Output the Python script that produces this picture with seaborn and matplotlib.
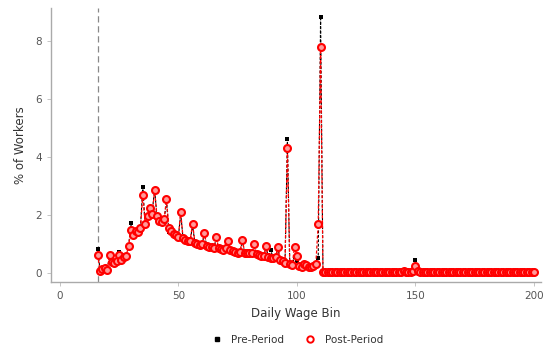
import numpy as np
import pandas as pd
import matplotlib
matplotlib.use("Agg")
import matplotlib.pyplot as plt
from matplotlib.lines import Line2D
import seaborn as sns

# Daily wage bins 16..200
bins = list(range(16, 201))

post_period = [
    # 16-19
    0.62, 0.08, 0.12, 0.18,
    # 20-29
    0.10, 0.62, 0.38, 0.35, 0.42, 0.62, 0.45, 0.55, 0.60, 0.92,
    # 30-39
    1.48, 1.30, 1.45, 1.42, 1.55, 2.68, 1.70, 1.95, 2.25, 2.05,
    # 40-49
    2.85, 1.95, 1.80, 1.75, 1.85, 2.55, 1.55, 1.45, 1.35, 1.30,
    # 50-59
    1.25, 2.10, 1.20, 1.15, 1.10, 1.12, 1.70, 1.05, 1.00, 0.98,
    # 60-69
    1.00, 1.38, 0.92, 0.90, 0.88, 0.85, 1.25, 0.85, 0.82, 0.80,
    # 70-79
    0.85, 1.12, 0.78, 0.75, 0.72, 0.70, 0.72, 1.15, 0.70, 0.68,
    # 80-89
    0.68, 0.70, 1.00, 0.65, 0.62, 0.60, 0.58, 0.92, 0.55, 0.52,
    # 90-99
    0.50, 0.55, 0.90, 0.45, 0.40, 0.35, 4.30, 0.30, 0.28, 0.88,
    # 100-109
    0.60, 0.25, 0.20, 0.30, 0.28, 0.22, 0.20, 0.25, 0.30, 1.70,
    # 110-119
    7.80, 0.05, 0.05, 0.04, 0.05, 0.05, 0.04, 0.05, 0.05, 0.04,
    # 120-129
    0.05, 0.05, 0.04, 0.05, 0.05, 0.05, 0.04, 0.05, 0.05, 0.04,
    # 130-139
    0.05, 0.05, 0.05, 0.04, 0.05, 0.05, 0.04, 0.05, 0.05, 0.05,
    # 140-149
    0.05, 0.04, 0.05, 0.05, 0.05, 0.08, 0.05, 0.05, 0.04, 0.06,
    # 150-159
    0.25, 0.06, 0.05, 0.04, 0.05, 0.05, 0.05, 0.04, 0.05, 0.05,
    # 160-169
    0.05, 0.04, 0.05, 0.05, 0.05, 0.05, 0.04, 0.05, 0.05, 0.04,
    # 170-179
    0.05, 0.05, 0.04, 0.05, 0.05, 0.05, 0.04, 0.05, 0.05, 0.05,
    # 180-189
    0.05, 0.04, 0.05, 0.05, 0.05, 0.04, 0.05, 0.05, 0.05, 0.04,
    # 190-199
    0.05, 0.05, 0.04, 0.05, 0.05, 0.05, 0.04, 0.05, 0.05, 0.05,
    # 200
    0.05,
]

pre_period = [
    # 16-19
    0.82, 0.07, 0.14, 0.16,
    # 20-29
    0.12, 0.60, 0.36, 0.38, 0.45, 0.73, 0.48, 0.52, 0.62, 0.90,
    # 30-39
    1.71, 1.32, 1.42, 1.45, 1.52, 2.98, 1.68, 1.92, 2.20, 2.10,
    # 40-49
    2.90, 1.90, 1.78, 1.72, 1.80, 2.50, 1.42, 1.40, 1.33, 1.28,
    # 50-59
    1.22, 2.05, 1.18, 1.12, 1.08, 1.10, 1.65, 1.02, 0.98, 0.96,
    # 60-69
    0.98, 1.35, 0.90, 0.88, 0.86, 0.83, 1.22, 0.83, 0.80, 0.78,
    # 70-79
    0.82, 1.10, 0.76, 0.73, 0.70, 0.68, 0.70, 1.12, 0.68, 0.66,
    # 80-89
    0.66, 0.68, 0.98, 0.63, 0.60, 0.58, 0.56, 0.90, 0.53, 0.80,
    # 90-99
    0.48, 0.52, 0.85, 0.43, 0.38, 0.33, 4.62, 0.28, 0.26, 0.55,
    # 100-109
    0.40, 0.24, 0.20, 0.28, 0.26, 0.20, 0.19, 0.23, 0.28, 0.50,
    # 110-119
    8.85, 0.05, 0.05, 0.05, 0.04, 0.05, 0.05, 0.04, 0.05, 0.05,
    # 120-129
    0.04, 0.05, 0.05, 0.05, 0.04, 0.05, 0.05, 0.05, 0.04, 0.05,
    # 130-139
    0.05, 0.04, 0.05, 0.05, 0.05, 0.04, 0.05, 0.05, 0.04, 0.05,
    # 140-149
    0.05, 0.05, 0.04, 0.05, 0.05, 0.10, 0.05, 0.04, 0.05, 0.06,
    # 150-159
    0.45, 0.06, 0.05, 0.05, 0.04, 0.05, 0.05, 0.05, 0.04, 0.05,
    # 160-169
    0.05, 0.05, 0.04, 0.05, 0.05, 0.04, 0.05, 0.05, 0.05, 0.05,
    # 170-179
    0.04, 0.05, 0.05, 0.05, 0.04, 0.05, 0.05, 0.05, 0.04, 0.05,
    # 180-189
    0.05, 0.05, 0.04, 0.05, 0.05, 0.05, 0.04, 0.05, 0.05, 0.05,
    # 190-199
    0.04, 0.05, 0.05, 0.05, 0.04, 0.05, 0.05, 0.05, 0.04, 0.05,
    # 200
    0.05,
]

assert len(bins) == len(post_period) == len(pre_period)

x_ticks = [0, 50, 100, 150, 200]
y_ticks = [0, 2, 4, 6, 8]
cutoff_bin = 16

sns.set_style("white")
plt.rcParams["font.family"] = ["DejaVu Sans"]

fig = plt.figure(figsize=(5.46, 3.52), dpi=100)
ax = fig.add_axes([0.093, 0.199, 0.898, 0.778])

df_pre = pd.DataFrame({"bin": bins, "pct": pre_period})
df_post = pd.DataFrame({"bin": bins, "pct": post_period})

sns.lineplot(data=df_pre, x="bin", y="pct", ax=ax, color="black",
             linestyle=(0, (2.5, 1.5)), linewidth=0.8, marker="s",
             markersize=2.8, markeredgewidth=0, markerfacecolor="black",
             legend=False, zorder=2)
sns.lineplot(data=df_post, x="bin", y="pct", ax=ax, color="red",
             linestyle=(0, (2.5, 1.5)), linewidth=0.9, marker="o",
             markersize=5.0, markeredgewidth=1.5, markeredgecolor="red",
             markerfacecolor="#ff9a9a", legend=False, zorder=3)

ax.axvline(cutoff_bin, color="#888888", linestyle=(0, (5, 3)), linewidth=0.9, zorder=1)

ax.set_xlim(-3.8, 203)
ax.set_ylim(-0.31, 9.14)
ax.set_xticks(x_ticks)
ax.set_yticks(y_ticks)
ax.tick_params(axis="both", labelsize=7.5, colors="#bbbbbb", labelcolor="#555555",
               length=3, width=0.6, direction="out")
ax.tick_params(axis="both", bottom=True, left=True)
for side in ["top", "right"]:
    ax.spines[side].set_visible(False)
for side in ["left", "bottom"]:
    ax.spines[side].set_color("#aaaaaa")
    ax.spines[side].set_linewidth(1.0)

ax.set_xlabel("Daily Wage Bin", fontsize=8.5, color="#333333", labelpad=4)
ax.set_ylabel("% of Workers", fontsize=8.5, color="#333333", labelpad=6)

handles = [
    Line2D([], [], linestyle="none", marker="s", markersize=3, color="black"),
    Line2D([], [], linestyle="none", marker="o", markersize=4.6, markeredgewidth=1.4,
           markeredgecolor="red", markerfacecolor="white"),
]
fig.legend(handles, ["Pre-Period", "Post-Period"], loc="center",
           bbox_to_anchor=(0.54, 0.035), ncol=2, frameon=False, fontsize=7.5,
           handletextpad=0.4, columnspacing=1.5, labelcolor="#333333")

fig.savefig("out.png", dpi=100, facecolor="white")
